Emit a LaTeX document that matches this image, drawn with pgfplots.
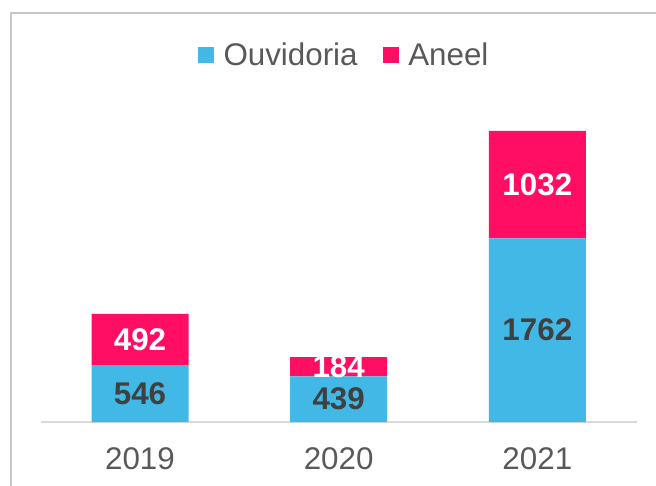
\documentclass[border=0pt]{standalone}
\usepackage{pgfplots}
\pgfplotsset{compat=1.18}
\usepackage{fontspec}
\setmainfont{Liberation Sans}
\definecolor{cblue}{HTML}{41B8E5}
\definecolor{cpink}{HTML}{FF0E63}
\definecolor{ctext}{HTML}{595959}
\definecolor{clab}{HTML}{404040}
\definecolor{cframe}{HTML}{C8C8C8}
\definecolor{caxis}{HTML}{D9D9D9}
\begin{document}
\begin{tikzpicture}
\useasboundingbox (0pt,0pt) rectangle (492pt,363.75pt);
\draw[cframe, line width=1.5pt] (8.25pt,-5pt) -- (8.25pt,354pt) -- (500pt,354pt);
\begin{axis}[
  at={(105pt,47.25pt)}, anchor=origin,
  scale only axis, width=447pt, height=234.45pt,
  ybar stacked, bar width=72.75pt,
  xmin=-0.5, xmax=2.5, ymin=0, ymax=3000,
  xtick={0,1,2}, xticklabels={2019,2020,2021},
  axis x line*=bottom, axis y line=none,
  x axis line style={draw=caxis, line width=1.5pt, -},
  major tick length=0pt,
  xticklabel style={font=\fontsize{23.5}{28}\selectfont, text=ctext, inner sep=0pt, yshift=-18.75pt},
  /pgf/number format/assume math mode=true,
  /pgf/number format/1000 sep={},
  point meta=explicit,
  nodes near coords={\pgfmathprintnumber{\pgfplotspointmeta}},
  every node near coord/.append style={anchor=center, inner sep=0pt,
     font=\fontsize{23.5}{28}\selectfont\bfseries},
  legend style={at={(0.51,1.174)}, anchor=center, draw=none, fill=none,
     legend columns=2, font=\fontsize{23.5}{28}\selectfont, text=ctext,
     /tikz/every odd column/.append style={column sep=5pt},
     /tikz/every even column/.append style={column sep=17pt},
     legend cell align=left},
  legend image code/.code={\fill[#1] (0pt,-6pt) rectangle (12pt,6pt);},
]
\addplot[fill=cblue, draw=none, every node near coord/.append style={text=clab}]
  coordinates {(0,546) [546] (1,439) [439] (2,1762) [1762]};
\addlegendentry{Ouvidoria}
\addplot[fill=cpink, draw=none, every node near coord/.append style={text=white}]
  coordinates {(0,492) [492] (1,184) [184] (2,1032) [1032]};
\addlegendentry{Aneel}
\end{axis}
\end{tikzpicture}
\end{document}
